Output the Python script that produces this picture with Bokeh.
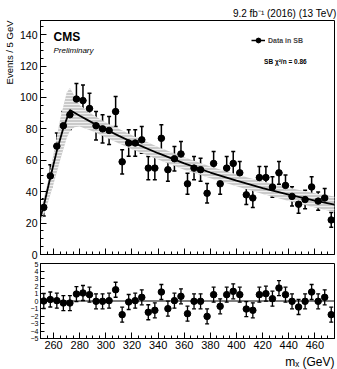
import numpy as np
from bokeh.plotting import figure
from bokeh.layouts import column
from bokeh.models import (ColumnDataSource, Whisker, TeeHead, FixedTicker, Label,
                          Legend, LegendItem, Range1d, Span, Title)
from bokeh.embed import file_html
from bokeh.resources import INLINE

# ---------------- data ----------------
bin_width = 5.0
m_lo, m_hi = 250.0, 475.0
bin_centers = [252.5 + 5 * i for i in range(45)]
events = [30, 50, 69, 82, 89, 99, 98, 93, 82, 80,
          79, 91, 59, 71, 71, 73, 55, 55, 74, 54,
          61, 64, 45, 55, 54, 39, 58, 45, 55, 58,
          52, 38, 36, 49, 49, 43, 52, 44, 37, 32,
          35, 43, 34, 36, 22]
pulls = [0.0, 0.2, 0.05, -0.27, -0.27, 0.93, 1.07, 0.85, -0.04, -0.04,
         0.05, 1.5, -1.82, -0.13, 0.05, 0.49, -1.5, -1.24, 1.2, -1.02,
         0.05, 0.62, -1.69, -0.04, -0.04, -2.05, 0.85, -0.71, 0.85, 1.29,
         0.85, -1.07, -1.24, 0.85, 0.98, 0.31, 1.73, 0.85, -0.04, -0.8,
         -0.04, 1.2, -0.04, 0.49, -1.82]
fit_m = [250, 252.5, 257.5, 262.5, 267.5, 272.5, 280, 290, 300, 310, 320,
         340, 360, 380, 400, 420, 440, 460, 475]
fit_y = [24, 31, 49, 66, 80.5, 92, 88.4, 83.8, 79.6, 75.5, 71.6,
         64.5, 58, 52.2, 47, 42.3, 38.1, 34.3, 31.7]
band_m = [250, 255, 260, 265, 270, 272.5, 276, 280, 290, 300, 320, 340,
          360, 380, 400, 420, 440, 460, 475]
band_hi = [28, 44, 64, 86, 103, 106, 101, 95, 89, 84, 76, 68.5,
           62, 56, 51, 46.5, 42.5, 39, 37]
band_lo = [20, 31, 45, 60, 74, 79, 81, 81.5, 78.5, 74.5, 67, 60.5,
           54, 48.5, 43.5, 38.5, 34, 30, 27]
x_ticks = [260, 280, 300, 320, 340, 360, 380, 400, 420, 440, 460]
y_ticks = [0, 20, 40, 60, 80, 100, 120, 140]
pull_ticks = [-5, -4, -3, -2, -1, 0, 1, 2, 3, 4, 5]
y_max = 149
pull_lim = 5

FONT = "Liberation Sans"

ev = np.array(events, dtype=float)
err = np.sqrt(ev)
bc = np.array(bin_centers)
src = ColumnDataSource(dict(x=bc, y=ev, lo=ev - err, hi=ev + err,
                            x0=bc - bin_width / 2, x1=bc + bin_width / 2))
pl = np.array(pulls)
psrc = ColumnDataSource(dict(x=bc, y=pl, lo=pl - 1.0, hi=pl + 1.0))


def style_axes(p):
    p.grid.visible = False
    p.outline_line_color = "black"
    p.outline_line_width = 1
    for ax in (p.xaxis[0], p.yaxis[0]):
        ax.major_tick_in = 6
        ax.major_tick_out = 0
        ax.minor_tick_in = 3
        ax.minor_tick_out = 0
        ax.axis_line_color = "black"
        ax.major_tick_line_color = "black"
        ax.minor_tick_line_color = "black"
        ax.major_label_text_font = FONT
        ax.major_label_text_color = "black"
        ax.major_label_standoff = 3


# ---------------- main panel ----------------
p1 = figure(width=337, height=261, x_range=Range1d(m_lo, m_hi), y_range=Range1d(0, y_max),
            output_backend="svg", toolbar_location=None,
            min_border_left=40, min_border_right=3, min_border_top=20, min_border_bottom=7)
style_axes(p1)
p1.title.text = "9.2 fb\u207b\u00b9 (2016) (13 TeV)"
p1.title.align = "right"
p1.title.text_font = FONT
p1.title.text_font_size = "10px"
p1.title.text_font_style = "normal"
p1.title.text_color = "black"
p1.title.standoff = 3
p1.title.offset = -2

p1.xaxis.ticker = FixedTicker(ticks=x_ticks, minor_ticks=list(range(250, 476, 5)))
p1.yaxis.ticker = FixedTicker(ticks=y_ticks, minor_ticks=list(range(0, 150, 5)))
p1.xaxis.major_label_overrides = {t: "" for t in x_ticks}
p1.xaxis.major_label_text_font_size = "2px"
p1.xaxis.major_label_standoff = 0
p1.yaxis.major_label_text_font_size = "10.5px"
p1.add_layout(Title(text="Events / 5 GeV", align="right", text_font=FONT,
                    text_font_size="9.5px", text_font_style="normal", text_color="black",
                    standoff=3), "left")

p1.varea(x=band_m, y1=band_lo, y2=band_hi, fill_color="#cacaca",
         hatch_pattern="horizontal_line", hatch_color="#f4f4f4", hatch_alpha=0.9,
         hatch_scale=3, hatch_weight=1)
p1.line(fit_m, fit_y, line_color="black", line_width=1.8)

hbar = p1.segment(x0="x0", y0="y", x1="x1", y1="y", source=src, line_color="black", line_width=1.5)
p1.add_layout(Whisker(base="x", upper="hi", lower="lo", source=src, dimension="height",
                      line_color="black", line_width=1.5,
                      upper_head=TeeHead(size=4, line_color="black", line_width=1.5),
                      lower_head=TeeHead(size=4, line_color="black", line_width=1.5)))
pts = p1.scatter(x="x", y="y", source=src, size=6.5, color="black")

leg = Legend(items=[LegendItem(label="Data in SB", renderers=[hbar, pts])],
             location=(211, 208), border_line_color=None, background_fill_alpha=0,
             label_text_font=FONT, label_text_font_style="bold", label_text_font_size="7px",
             glyph_width=14, glyph_height=12, label_height=12, margin=0, padding=2,
             label_standoff=3)
p1.add_layout(leg)

p1.add_layout(Label(x=m_lo, y=y_max, x_offset=13, y_offset=-9, text="CMS",
                    text_align="left", text_baseline="top", text_font=FONT,
                    text_font_size="12px", text_font_style="bold", text_color="black"))
p1.add_layout(Label(x=m_lo, y=y_max, x_offset=13, y_offset=-25, text="Preliminary",
                    text_align="left", text_baseline="top", text_font=FONT,
                    text_font_size="8px", text_font_style="italic", text_color="black"))
p1.add_layout(Label(x=m_hi, y=y_max, x_offset=-26, y_offset=-41, text="SB  \u03c7\u00b2/n = 0.86",
                    text_align="right", text_baseline="middle", text_font=FONT,
                    text_font_size="6.5px", text_font_style="bold", text_color="black"))

# ---------------- pull panel ----------------
p2 = figure(width=337, height=108, x_range=p1.x_range, y_range=Range1d(-pull_lim, pull_lim),
            output_backend="svg", toolbar_location=None,
            min_border_left=40, min_border_right=3, min_border_top=2, min_border_bottom=30)
style_axes(p2)
p2.xaxis.ticker = FixedTicker(ticks=x_ticks, minor_ticks=list(range(250, 476, 5)))
p2.yaxis.ticker = FixedTicker(ticks=pull_ticks)
p2.yaxis.major_tick_in = 4
p2.xaxis.major_label_text_font_size = "11px"
p2.xaxis.major_label_standoff = 2
p2.yaxis.major_label_text_font_size = "7px"
p2.yaxis.major_label_standoff = 2
p2.add_layout(Title(text="m\u2093 (GeV)", align="right", text_font=FONT,
                    text_font_size="12px", text_font_style="normal", text_color="black",
                    standoff=2), "below")

p2.add_layout(Span(location=0, dimension="width", line_color="black", line_width=1.2))
p2.add_layout(Whisker(base="x", upper="hi", lower="lo", source=psrc, dimension="height",
                      line_color="black", line_width=1.3,
                      upper_head=TeeHead(size=4, line_color="black", line_width=1.3),
                      lower_head=TeeHead(size=4, line_color="black", line_width=1.3)))
p2.scatter(x="x", y="y", source=psrc, size=6.5, color="black")

layout = column(p1, p2, spacing=0)
open("out.html", "w").write(file_html(layout, INLINE))
